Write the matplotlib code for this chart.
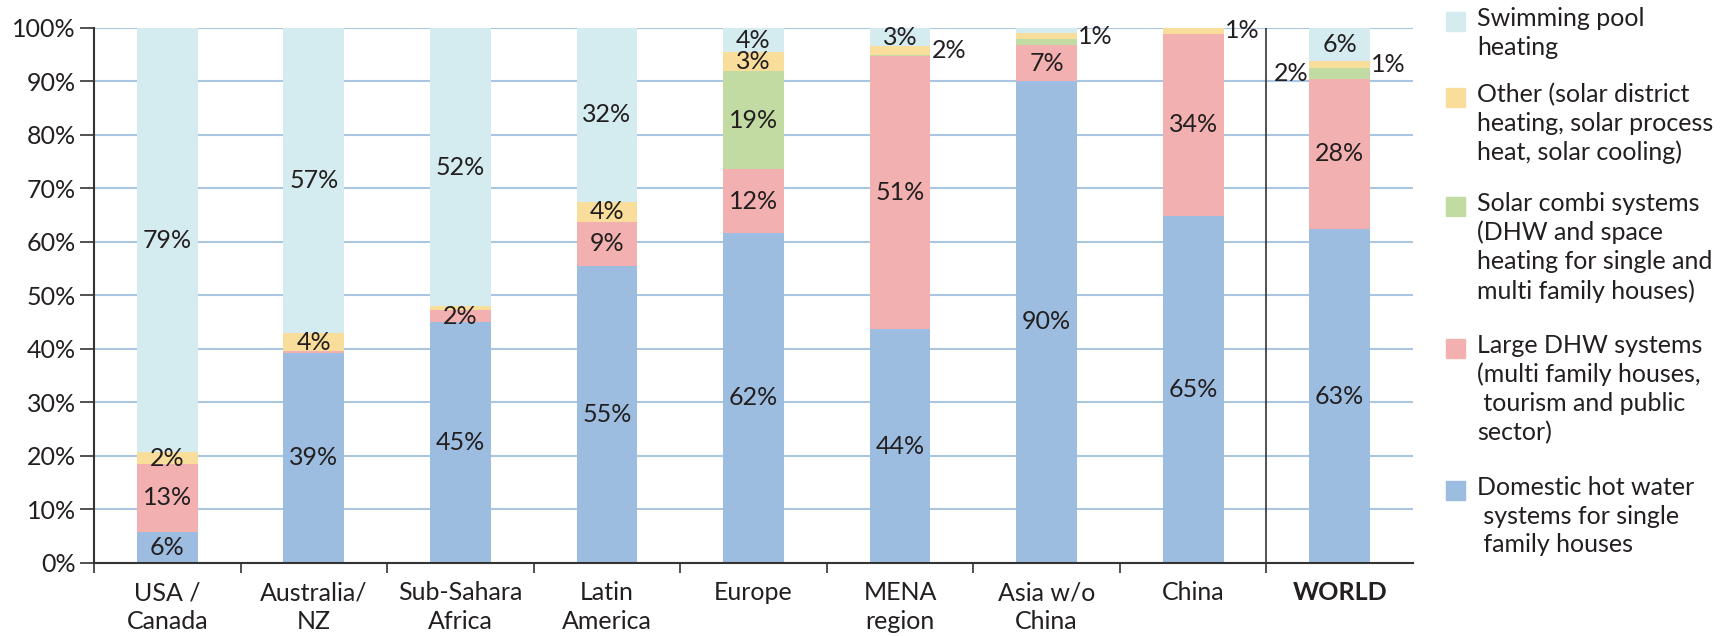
import numpy as np
import matplotlib
matplotlib.use("Agg")
import matplotlib.pyplot as plt
from matplotlib.patches import Rectangle

plt.rcParams['font.family'] = ['Lato', 'DejaVu Sans']

regions = ["USA /\nCanada", "Australia/\nNZ", "Sub-Sahara\nAfrica", "Latin\nAmerica",
           "Europe", "MENA\nregion", "Asia w/o\nChina", "China", "WORLD"]

# shares in %, bottom to top
dhw_single = [5.8, 39.3, 45.0, 55.5, 61.7, 43.7, 90.1, 64.9, 62.4]
dhw_large = [12.7, 0.3, 2.3, 8.3, 11.9, 51.1, 6.7, 34.0, 28.1]
combi = [0.0, 0.0, 0.0, 0.0, 18.4, 0.2, 1.1, 0.0, 2.0]
other = [2.2, 3.4, 0.7, 3.7, 3.5, 1.6, 1.1, 1.1, 1.3]
pool = [79.3, 57.0, 52.0, 32.5, 4.5, 3.4, 1.0, 0.0, 6.2]

# printed labels: (series, region index, text, where)
labels = [
    ("dhw_single", 0, "6%", "in"), ("dhw_large", 0, "13%", "in"), ("other", 0, "2%", "in"), ("pool", 0, "79%", "in"),
    ("dhw_single", 1, "39%", "in"), ("other", 1, "4%", "in"), ("pool", 1, "57%", "in"),
    ("dhw_single", 2, "45%", "in"), ("dhw_large", 2, "2%", "in"), ("pool", 2, "52%", "in"),
    ("dhw_single", 3, "55%", "in"), ("dhw_large", 3, "9%", "in"), ("other", 3, "4%", "in"), ("pool", 3, "32%", "in"),
    ("dhw_single", 4, "62%", "in"), ("dhw_large", 4, "12%", "in"), ("combi", 4, "19%", "in"),
    ("other", 4, "3%", "in"), ("pool", 4, "4%", "in"),
    ("dhw_single", 5, "44%", "in"), ("dhw_large", 5, "51%", "in"), ("other", 5, "2%", "right"), ("pool", 5, "3%", "in"),
    ("dhw_single", 6, "90%", "in"), ("dhw_large", 6, "7%", "in"), ("other", 6, "1%", "right"),
    ("dhw_single", 7, "65%", "in"), ("dhw_large", 7, "34%", "in"), ("other", 7, "1%", "right"),
    ("dhw_single", 8, "63%", "in"), ("dhw_large", 8, "28%", "in"), ("combi", 8, "2%", "left"),
    ("other", 8, "1%", "right"), ("pool", 8, "6%", "in"),
]

series_names = ["dhw_single", "dhw_large", "combi", "other", "pool"]
series_vals = [dhw_single, dhw_large, combi, other, pool]
colors = ["#9dbde0", "#f2b0b0", "#c2dba2", "#f9dd9a", "#d4ebf0"]
legend_text = [
    "Swimming pool\nheating",
    "Other (solar district\nheating, solar process\nheat, solar cooling)",
    "Solar combi systems\n(DHW and space\nheating for single and\nmulti family houses)",
    "Large DHW systems\n(multi family houses,\n tourism and public\nsector)",
    "Domestic hot water\n systems for single\n family houses",
]
legend_colors = colors[::-1]

txt = "#231f20"
fs = 18
fig = plt.figure(figsize=(17.28, 6.36), dpi=100)
ax = fig.add_axes([0.0544, 0.1148, 0.7633, 0.8412])

x = np.arange(len(regions))
bottom = np.zeros(len(regions))
bottoms = {}
for name, vals, c in zip(series_names, series_vals, colors):
    vals = np.array(vals)
    ax.bar(x, vals, 0.415, bottom=bottom, color=c, zorder=2)
    bottoms[name] = (bottom.copy(), vals)
    bottom = bottom + vals

for name, i, t, where in labels:
    b, v = bottoms[name]
    yc = b[i] + v[i] / 2
    if where == "in":
        ax.text(x[i], yc, t, ha="center", va="center", fontsize=fs, color=txt, zorder=3)
    elif where == "right":
        ax.text(x[i] + 0.215, yc, t, ha="left", va="center", fontsize=fs, color=txt, zorder=3)
    else:
        ax.text(x[i] - 0.215, yc, t, ha="right", va="center", fontsize=fs, color=txt, zorder=3)

ax.set_xlim(-0.5, len(regions) - 0.5)
ax.set_ylim(0, 100)
ax.set_yticks(np.arange(0, 101, 10))
ax.set_yticklabels([f"{v}%" for v in range(0, 101, 10)], fontsize=fs, color=txt)
ax.yaxis.grid(True, color="#a9c5e0", linewidth=1.5, zorder=0)
ax.set_axisbelow(True)
ax.tick_params(axis="y", length=10, width=1.2, color="#333333", pad=3)

ax.set_xticks(x)
ax.set_xticklabels(regions, fontsize=fs, color=txt, linespacing=1.3)
ax.get_xticklabels()[-1].set_fontweight("bold")
ax.tick_params(axis="x", which="major", length=0, pad=13)
ax.set_xticks(np.arange(-0.5, len(regions) - 0.5, 1), minor=True)
ax.tick_params(axis="x", which="minor", length=7, width=1.2, color="#333333")

for s in ["top", "right"]:
    ax.spines[s].set_visible(False)
ax.spines["left"].set_color("#333333")
ax.spines["left"].set_linewidth(1.5)
ax.spines["bottom"].set_color("#333333")
ax.spines["bottom"].set_linewidth(1.5)
ax.axvline(len(regions) - 1.5, color="#333333", linewidth=1.2, zorder=1)

# legend on the right
entry_tops = [12, 88, 197, 339, 481]
for top, lab, c in zip(entry_tops, legend_text, legend_colors):
    fig.patches.append(Rectangle((1446 / 1728, 1 - (top + 19) / 636), 19 / 1728, 19 / 636,
                                 transform=fig.transFigure, color=c))
    fig.text(1477 / 1728, 1 - (top - 5) / 636, lab, ha="left", va="top", fontsize=fs,
             color=txt, linespacing=1.3)

fig.savefig("out.png", dpi=100)
